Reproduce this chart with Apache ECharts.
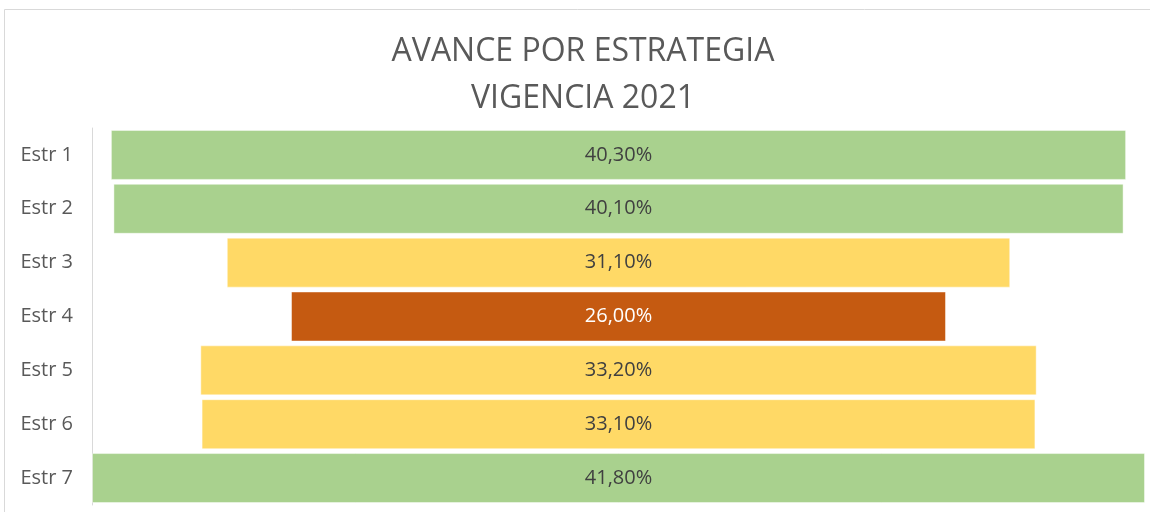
<!DOCTYPE html>
<html>
<head>
<meta charset="utf-8">
<script src="https://cdn.jsdelivr.net/npm/echarts@6/dist/echarts.min.js"></script>
<style>html,body{margin:0;padding:0;background:#fff}#c{width:1150px;height:512px}</style>
</head>
<body>
<div id="c"></div>
<script>
var categories = ['Estr 1','Estr 2','Estr 3','Estr 4','Estr 5','Estr 6','Estr 7'];
var values = [40.3, 40.1, 31.1, 26.0, 33.2, 33.1, 41.8];
var barColors = ['#A9D18E','#A9D18E','#FFD966','#C55A11','#FFD966','#FFD966','#A9D18E'];
var labelColors = ['#404040','#404040','#404040','#FFFFFF','#404040','#404040','#404040'];
var titleLines = ['AVANCE POR ESTRATEGIA','VIGENCIA 2021'];

var maxV = Math.max.apply(null, values);
var offsets = values.map(function(v){ return (maxV - v) / 2; });

var chart = echarts.init(document.getElementById('c'));
chart.setOption({
  animation: false,
  title: {
    text: titleLines.join('\n'),
    left: 578, top: 23, textAlign: 'center',
    textStyle: { fontFamily: 'Open Sans', fontWeight: 'normal', fontSize: 32, color: '#595959', lineHeight: 47 }
  },
  graphic: [{
    type: 'rect', silent: true,
    shape: { x: 4.5, y: 9.5, width: 1300, height: 700 },
    style: { fill: 'none', stroke: '#D9D9D9', lineWidth: 1 }
  }],
  grid: { left: 92, right: 5, top: 128, bottom: 7 },
  xAxis: { type: 'value', min: 0, max: maxV, show: false },
  yAxis: {
    type: 'category', data: categories, inverse: true,
    axisLine: { show: true, lineStyle: { color: '#D9D9D9', width: 1 } },
    axisTick: { show: false },
    axisLabel: { margin: 19, fontFamily: 'Open Sans', fontSize: 20, color: '#595959' }
  },
  series: [{
    type: 'bar', stack: 'f', barWidth: 50,
    data: offsets,
    itemStyle: { color: 'transparent' },
    silent: true
  }, {
    type: 'bar', stack: 'f', barWidth: 50,
    data: values.map(function(v, i){
      return {
        value: v,
        itemStyle: { color: barColors[i], borderColor: 'rgba(255,255,255,0.45)', borderWidth: 1 },
        label: { color: labelColors[i] }
      };
    }),
    label: {
      show: true, position: 'inside',
      fontFamily: 'Open Sans', fontSize: 20,
      formatter: function(p){ return p.value.toFixed(2).replace('.', ',') + '%'; }
    }
  }]
});
</script>
</body>
</html>
